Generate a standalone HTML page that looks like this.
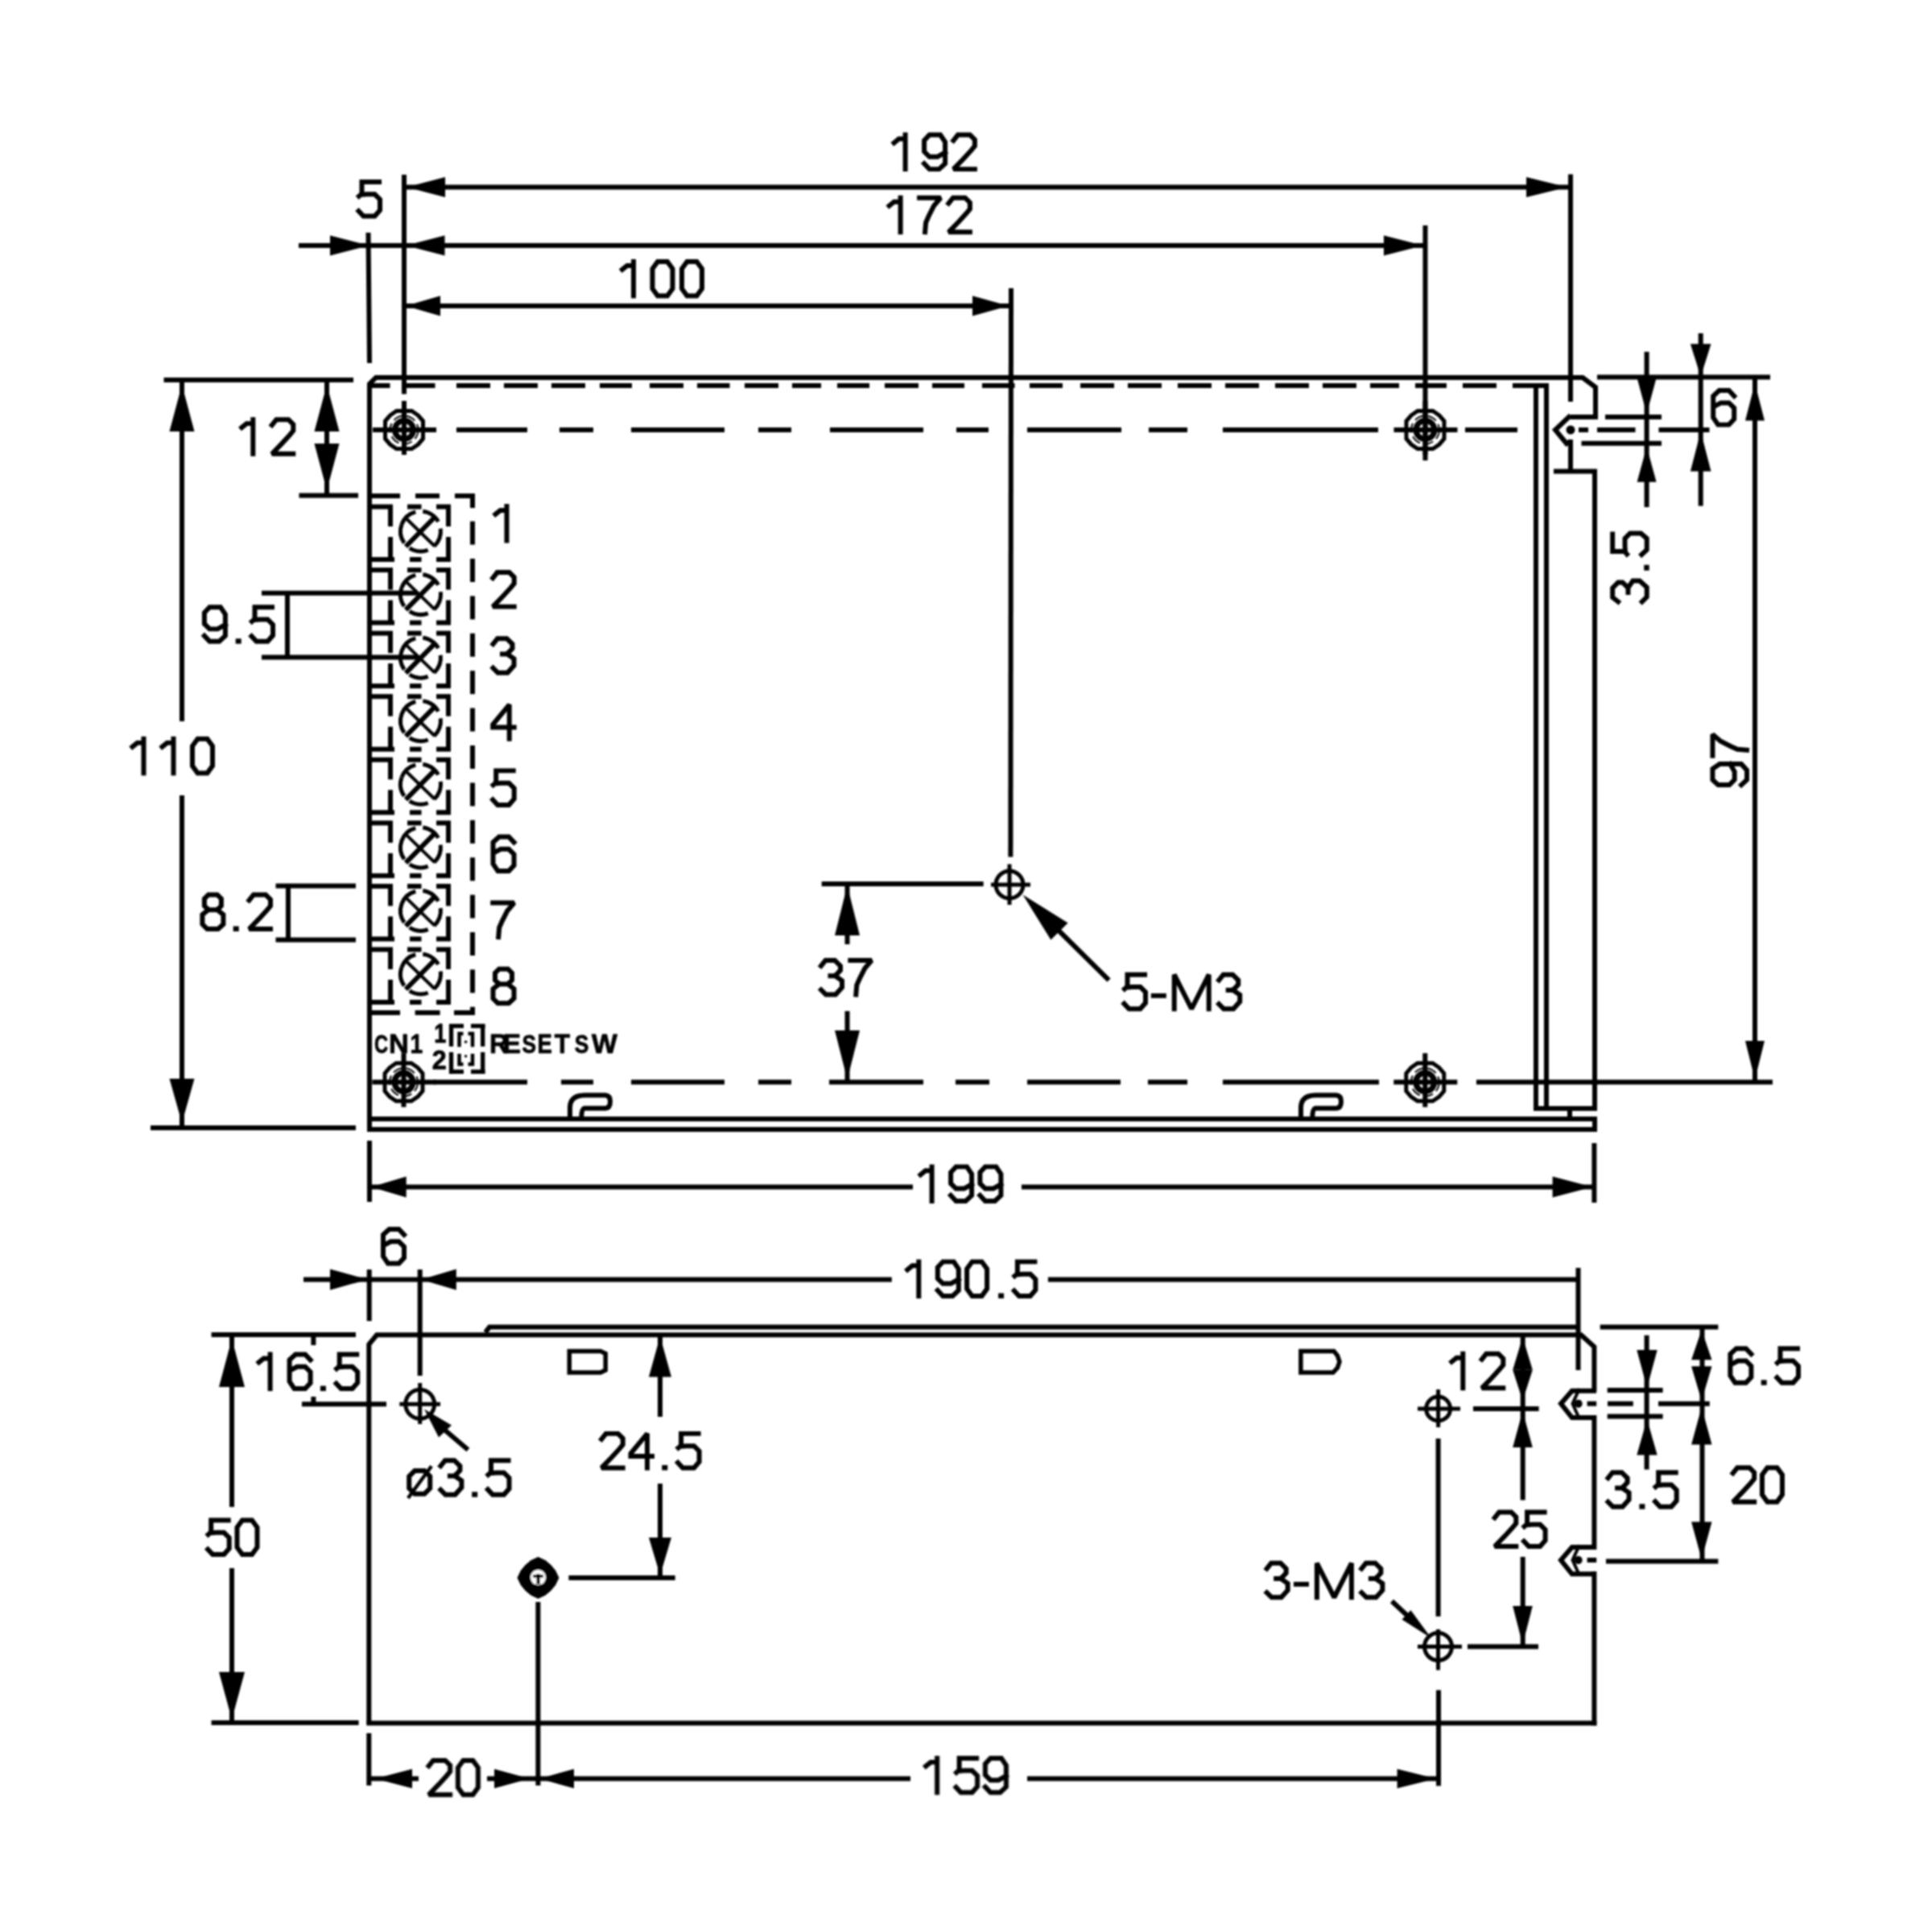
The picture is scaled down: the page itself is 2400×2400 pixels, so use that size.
<!DOCTYPE html>
<html><head><meta charset="utf-8"><style>html,body{margin:0;padding:0;background:#fff;width:2400px;height:2400px;overflow:hidden}svg{display:block}</style></head>
<body><svg width="2400" height="2400" viewBox="0 0 2400 2400">
<defs><filter id="bl" x="0" y="0" width="2400" height="2400" filterUnits="userSpaceOnUse"><feGaussianBlur stdDeviation="0.8"/></filter></defs>
<rect width="2400" height="2400" fill="#fff"/>
<g filter="url(#bl)">
<g stroke="#000" fill="#000" stroke-linecap="butt" stroke-linejoin="miter">
<polyline points="459,1403 459,477 467,469 1966,469 1982,481 1982,518 1951,518" fill="none" stroke-width="6"/>
<polyline points="1951,516 1932,534 1946,551 1951,548" fill="none" stroke-width="6"/>
<line x1="1951" y1="546" x2="1951" y2="585.5" stroke-width="6"/>
<line x1="1930" y1="585.5" x2="1984" y2="585.5" stroke-width="6"/>
<line x1="1981" y1="585" x2="1981" y2="1377" stroke-width="6"/>
<line x1="1921" y1="476" x2="1921" y2="1380" stroke-width="6"/>
<line x1="1908" y1="476" x2="1908" y2="1380" stroke-width="6"/>
<line x1="1905" y1="1377" x2="1984" y2="1377" stroke-width="6"/>
<line x1="1950" y1="1377" x2="1950" y2="1390" stroke-width="6"/>
<line x1="459" y1="1390" x2="1984" y2="1390" stroke-width="6"/>
<line x1="456" y1="1403" x2="1984" y2="1403" stroke-width="6"/>
<line x1="1981" y1="1387" x2="1981" y2="1406" stroke-width="6"/>
<line x1="459" y1="479" x2="484.5" y2="479" stroke-width="6"/>
<line x1="504" y1="479" x2="540.5" y2="479" stroke-width="6"/>
<line x1="567" y1="479" x2="609" y2="479" stroke-width="6"/>
<line x1="626" y1="479" x2="668" y2="479" stroke-width="6"/>
<line x1="685" y1="479" x2="727" y2="479" stroke-width="6"/>
<line x1="745" y1="479" x2="785" y2="479" stroke-width="6"/>
<line x1="807" y1="479" x2="849" y2="479" stroke-width="6"/>
<line x1="866" y1="479" x2="906.5" y2="479" stroke-width="6"/>
<line x1="925" y1="479" x2="967" y2="479" stroke-width="6"/>
<line x1="984" y1="479" x2="1020" y2="479" stroke-width="6"/>
<line x1="1040" y1="479" x2="1080" y2="479" stroke-width="6"/>
<line x1="1099" y1="479" x2="1141" y2="479" stroke-width="6"/>
<line x1="1158" y1="479" x2="1198" y2="479" stroke-width="6"/>
<line x1="1220" y1="479" x2="1260.5" y2="479" stroke-width="6"/>
<line x1="1279" y1="479" x2="1320" y2="479" stroke-width="6"/>
<line x1="1342" y1="479" x2="1384" y2="479" stroke-width="6"/>
<line x1="1401" y1="479" x2="1443" y2="479" stroke-width="6"/>
<line x1="1463" y1="479" x2="1505" y2="479" stroke-width="6"/>
<line x1="1522" y1="479" x2="1564" y2="479" stroke-width="6"/>
<line x1="1584" y1="479" x2="1626" y2="479" stroke-width="6"/>
<line x1="1643" y1="479" x2="1685" y2="479" stroke-width="6"/>
<line x1="1702" y1="479" x2="1738" y2="479" stroke-width="6"/>
<line x1="1758" y1="479" x2="1797" y2="479" stroke-width="6"/>
<line x1="1817" y1="479" x2="1859" y2="479" stroke-width="6"/>
<line x1="1879" y1="479" x2="1921" y2="479" stroke-width="6"/>
<line x1="567" y1="534" x2="655" y2="534" stroke-width="6"/>
<line x1="695" y1="534" x2="737" y2="534" stroke-width="6"/>
<line x1="784" y1="534" x2="900" y2="534" stroke-width="6"/>
<line x1="942" y1="534" x2="983" y2="534" stroke-width="6"/>
<line x1="1031" y1="534" x2="1147" y2="534" stroke-width="6"/>
<line x1="1188" y1="534" x2="1228" y2="534" stroke-width="6"/>
<line x1="1276" y1="534" x2="1393" y2="534" stroke-width="6"/>
<line x1="1427" y1="534" x2="1475" y2="534" stroke-width="6"/>
<line x1="1519" y1="534" x2="1712" y2="534" stroke-width="6"/>
<line x1="1820" y1="534" x2="1885" y2="534" stroke-width="6"/>
<line x1="1961" y1="534" x2="1973" y2="534" stroke-width="6"/>
<line x1="1984" y1="534" x2="2031.5" y2="534" stroke-width="6"/>
<line x1="2060.5" y1="534" x2="2123.5" y2="534" stroke-width="6"/>
<line x1="538" y1="1344.3" x2="655" y2="1344.3" stroke-width="6"/>
<line x1="697" y1="1344.3" x2="737" y2="1344.3" stroke-width="6"/>
<line x1="784" y1="1344.3" x2="900" y2="1344.3" stroke-width="6"/>
<line x1="942" y1="1344.3" x2="983" y2="1344.3" stroke-width="6"/>
<line x1="1030" y1="1344.3" x2="1147" y2="1344.3" stroke-width="6"/>
<line x1="1187" y1="1344.3" x2="1229" y2="1344.3" stroke-width="6"/>
<line x1="1276" y1="1344.3" x2="1392" y2="1344.3" stroke-width="6"/>
<line x1="1426" y1="1344.3" x2="1475" y2="1344.3" stroke-width="6"/>
<line x1="1519" y1="1344.3" x2="1713" y2="1344.3" stroke-width="6"/>
<line x1="1834" y1="1344.3" x2="2202" y2="1344.3" stroke-width="6"/>
<polygon points="492.5,510.5 511.5,510.5 519.5,516 525.5,523 525.5,545 519.5,552 511.5,557.5 492.5,557.5 484.5,552 478.5,545 478.5,523 484.5,516" fill="none" stroke-width="5"/>
<circle cx="502" cy="534" r="17.5" fill="none" stroke-width="2" stroke-dasharray="12 5"/>
<circle cx="502" cy="534" r="11.5" fill="none" stroke-width="7" />
<line x1="463" y1="534" x2="542" y2="534" stroke-width="6"/>
<line x1="502" y1="498" x2="502" y2="565" stroke-width="6"/>
<polygon points="1761.0,510.5 1780.0,510.5 1788.0,516 1794.0,523 1794.0,545 1788.0,552 1780.0,557.5 1761.0,557.5 1753.0,552 1747.0,545 1747.0,523 1753.0,516" fill="none" stroke-width="5"/>
<circle cx="1770.5" cy="534" r="17.5" fill="none" stroke-width="2" stroke-dasharray="12 5"/>
<circle cx="1770.5" cy="534" r="11.5" fill="none" stroke-width="7" />
<line x1="1731.5" y1="534" x2="1810.5" y2="534" stroke-width="6"/>
<line x1="1770.5" y1="498" x2="1770.5" y2="565" stroke-width="6"/>
<polygon points="492.0,1320.8 511.0,1320.8 519.0,1326.3 525.0,1333.3 525.0,1355.3 519.0,1362.3 511.0,1367.8 492.0,1367.8 484.0,1362.3 478.0,1355.3 478.0,1333.3 484.0,1326.3" fill="none" stroke-width="5"/>
<circle cx="501.5" cy="1344.3" r="17.5" fill="none" stroke-width="2" stroke-dasharray="12 5"/>
<circle cx="501.5" cy="1344.3" r="11.5" fill="none" stroke-width="7" />
<line x1="462.5" y1="1344.3" x2="541.5" y2="1344.3" stroke-width="6"/>
<line x1="501.5" y1="1308.3" x2="501.5" y2="1375.3" stroke-width="6"/>
<polygon points="1760.8,1320.8 1779.8,1320.8 1787.8,1326.3 1793.8,1333.3 1793.8,1355.3 1787.8,1362.3 1779.8,1367.8 1760.8,1367.8 1752.8,1362.3 1746.8,1355.3 1746.8,1333.3 1752.8,1326.3" fill="none" stroke-width="5"/>
<circle cx="1770.3" cy="1344.3" r="17.5" fill="none" stroke-width="2" stroke-dasharray="12 5"/>
<circle cx="1770.3" cy="1344.3" r="11.5" fill="none" stroke-width="7" />
<line x1="1731.3" y1="1344.3" x2="1810.3" y2="1344.3" stroke-width="6"/>
<line x1="1770.3" y1="1308.3" x2="1770.3" y2="1375.3" stroke-width="6"/>
<circle cx="1951" cy="534" r="5.5" fill="#000" stroke-width="0" />
<line x1="502" y1="232.5" x2="1951" y2="232.5" stroke-width="6"/>
<polygon points="505.0,232.5 553.0,220.0 553.0,245.0" stroke="none"/>
<polygon points="1947.0,232.5 1896.0,220.0 1896.0,245.0" stroke="none"/>
<line x1="502" y1="217" x2="502" y2="489.5" stroke-width="6"/>
<line x1="1951" y1="216.5" x2="1951" y2="499" stroke-width="6"/>
<line x1="371" y1="305" x2="1770.5" y2="305" stroke-width="6"/>
<polygon points="459.0,305.0 410.0,292.5 410.0,317.5" stroke="none"/>
<polygon points="504.0,305.0 552.5,292.5 552.5,317.5" stroke="none"/>
<polygon points="1768.0,305.0 1719.0,292.5 1719.0,317.5" stroke="none"/>
<line x1="457.5" y1="289" x2="459" y2="451" stroke-width="6"/>
<line x1="1770.5" y1="280" x2="1770.5" y2="572" stroke-width="6"/>
<line x1="502" y1="380" x2="1255" y2="380" stroke-width="6"/>
<polygon points="504.0,380.0 547.0,367.5 547.0,392.5" stroke="none"/>
<polygon points="1253.0,380.0 1208.0,367.5 1208.0,392.5" stroke="none"/>
<line x1="1256" y1="358" x2="1255.4" y2="1064.4" stroke-width="6"/>
<line x1="203.5" y1="472" x2="439" y2="472" stroke-width="6"/>
<line x1="226" y1="472" x2="226" y2="896" stroke-width="6"/>
<line x1="226" y1="988" x2="226" y2="1400" stroke-width="6"/>
<polygon points="226.0,478.0 210.5,536.0 241.5,536.0" stroke="none"/>
<polygon points="226.0,1395.0 210.5,1340.0 241.5,1340.0" stroke="none"/>
<line x1="187" y1="1401" x2="442" y2="1401" stroke-width="6"/>
<line x1="406" y1="472" x2="406" y2="615.6" stroke-width="6"/>
<polygon points="406.0,478.0 390.5,536.0 421.5,536.0" stroke="none"/>
<polygon points="406.0,609.0 390.5,551.0 421.5,551.0" stroke="none"/>
<line x1="371.5" y1="615.6" x2="445" y2="615.6" stroke-width="6"/>
<line x1="357" y1="736.7" x2="357" y2="816.5" stroke-width="6"/>
<line x1="325" y1="736.7" x2="518.5" y2="736.7" stroke-width="6"/>
<line x1="325" y1="816.5" x2="518.5" y2="816.5" stroke-width="6"/>
<line x1="358" y1="1100.6" x2="358" y2="1167.4" stroke-width="6"/>
<line x1="342.5" y1="1100.6" x2="442" y2="1100.6" stroke-width="6"/>
<line x1="342.5" y1="1167.4" x2="442" y2="1167.4" stroke-width="6"/>
<line x1="459" y1="616" x2="497" y2="616" stroke-width="6"/>
<line x1="516" y1="616" x2="546" y2="616" stroke-width="6"/>
<line x1="565" y1="616" x2="590" y2="616" stroke-width="6"/>
<line x1="459" y1="1258" x2="497" y2="1258" stroke-width="6"/>
<line x1="515.6" y1="1258" x2="546.6" y2="1258" stroke-width="6"/>
<line x1="564" y1="1258" x2="590" y2="1258" stroke-width="6"/>
<line x1="587" y1="613" x2="587" y2="631" stroke-width="6"/>
<line x1="587" y1="647.6" x2="587" y2="676.6" stroke-width="6"/>
<line x1="587" y1="694.0" x2="587" y2="723.0" stroke-width="6"/>
<line x1="587" y1="740.4" x2="587" y2="769.4" stroke-width="6"/>
<line x1="587" y1="786.8" x2="587" y2="815.8" stroke-width="6"/>
<line x1="587" y1="833.1999999999999" x2="587" y2="862.1999999999999" stroke-width="6"/>
<line x1="587" y1="879.5999999999999" x2="587" y2="908.5999999999999" stroke-width="6"/>
<line x1="587" y1="925.9999999999999" x2="587" y2="954.9999999999999" stroke-width="6"/>
<line x1="587" y1="972.3999999999999" x2="587" y2="1001.3999999999999" stroke-width="6"/>
<line x1="587" y1="1018.7999999999998" x2="587" y2="1047.7999999999997" stroke-width="6"/>
<line x1="587" y1="1065.1999999999998" x2="587" y2="1094.1999999999998" stroke-width="6"/>
<line x1="587" y1="1111.6" x2="587" y2="1140.6" stroke-width="6"/>
<line x1="587" y1="1158.0" x2="587" y2="1187.0" stroke-width="6"/>
<line x1="587" y1="1204.4" x2="587" y2="1233.4" stroke-width="6"/>
<line x1="587" y1="1250.8000000000002" x2="587" y2="1261" stroke-width="6"/>
<line x1="459" y1="629.5" x2="488" y2="629.5" stroke-width="6"/>
<line x1="506" y1="629.5" x2="523.5" y2="629.5" stroke-width="6"/>
<line x1="542" y1="629.5" x2="560" y2="629.5" stroke-width="6"/>
<line x1="459" y1="695.0" x2="490" y2="695.0" stroke-width="6"/>
<line x1="509" y1="695.0" x2="523.5" y2="695.0" stroke-width="6"/>
<line x1="542" y1="695.0" x2="560" y2="695.0" stroke-width="6"/>
<line x1="485" y1="629.5" x2="485" y2="654.0" stroke-width="6"/>
<line x1="485" y1="667.0" x2="485" y2="695.0" stroke-width="6"/>
<line x1="557" y1="629.5" x2="557" y2="654.0" stroke-width="6"/>
<line x1="557" y1="667.0" x2="557" y2="695.0" stroke-width="6"/>
<circle cx="522.5" cy="660.0" r="25" fill="none" stroke-width="5" stroke-dasharray="24 9" transform="rotate(200 522.5 660.0)"/>
<line x1="504" y1="643.5" x2="540" y2="678.5" stroke-width="4"/>
<line x1="539" y1="643.5" x2="504" y2="679.0" stroke-width="6"/>
<line x1="459" y1="708.0699999999999" x2="488" y2="708.0699999999999" stroke-width="6"/>
<line x1="506" y1="708.0699999999999" x2="523.5" y2="708.0699999999999" stroke-width="6"/>
<line x1="542" y1="708.0699999999999" x2="560" y2="708.0699999999999" stroke-width="6"/>
<line x1="459" y1="773.5699999999999" x2="490" y2="773.5699999999999" stroke-width="6"/>
<line x1="509" y1="773.5699999999999" x2="523.5" y2="773.5699999999999" stroke-width="6"/>
<line x1="542" y1="773.5699999999999" x2="560" y2="773.5699999999999" stroke-width="6"/>
<line x1="485" y1="708.0699999999999" x2="485" y2="732.5699999999999" stroke-width="6"/>
<line x1="485" y1="745.5699999999999" x2="485" y2="773.5699999999999" stroke-width="6"/>
<line x1="557" y1="708.0699999999999" x2="557" y2="732.5699999999999" stroke-width="6"/>
<line x1="557" y1="745.5699999999999" x2="557" y2="773.5699999999999" stroke-width="6"/>
<circle cx="522.5" cy="738.5699999999999" r="25" fill="none" stroke-width="5" stroke-dasharray="24 9" transform="rotate(200 522.5 738.5699999999999)"/>
<line x1="504" y1="722.0699999999999" x2="540" y2="757.0699999999999" stroke-width="4"/>
<line x1="539" y1="722.0699999999999" x2="504" y2="757.5699999999999" stroke-width="6"/>
<line x1="459" y1="786.64" x2="488" y2="786.64" stroke-width="6"/>
<line x1="506" y1="786.64" x2="523.5" y2="786.64" stroke-width="6"/>
<line x1="542" y1="786.64" x2="560" y2="786.64" stroke-width="6"/>
<line x1="459" y1="852.14" x2="490" y2="852.14" stroke-width="6"/>
<line x1="509" y1="852.14" x2="523.5" y2="852.14" stroke-width="6"/>
<line x1="542" y1="852.14" x2="560" y2="852.14" stroke-width="6"/>
<line x1="485" y1="786.64" x2="485" y2="811.14" stroke-width="6"/>
<line x1="485" y1="824.14" x2="485" y2="852.14" stroke-width="6"/>
<line x1="557" y1="786.64" x2="557" y2="811.14" stroke-width="6"/>
<line x1="557" y1="824.14" x2="557" y2="852.14" stroke-width="6"/>
<circle cx="522.5" cy="817.14" r="25" fill="none" stroke-width="5" stroke-dasharray="24 9" transform="rotate(200 522.5 817.14)"/>
<line x1="504" y1="800.64" x2="540" y2="835.64" stroke-width="4"/>
<line x1="539" y1="800.64" x2="504" y2="836.14" stroke-width="6"/>
<line x1="459" y1="865.21" x2="488" y2="865.21" stroke-width="6"/>
<line x1="506" y1="865.21" x2="523.5" y2="865.21" stroke-width="6"/>
<line x1="542" y1="865.21" x2="560" y2="865.21" stroke-width="6"/>
<line x1="459" y1="930.71" x2="490" y2="930.71" stroke-width="6"/>
<line x1="509" y1="930.71" x2="523.5" y2="930.71" stroke-width="6"/>
<line x1="542" y1="930.71" x2="560" y2="930.71" stroke-width="6"/>
<line x1="485" y1="865.21" x2="485" y2="889.71" stroke-width="6"/>
<line x1="485" y1="902.71" x2="485" y2="930.71" stroke-width="6"/>
<line x1="557" y1="865.21" x2="557" y2="889.71" stroke-width="6"/>
<line x1="557" y1="902.71" x2="557" y2="930.71" stroke-width="6"/>
<circle cx="522.5" cy="895.71" r="25" fill="none" stroke-width="5" stroke-dasharray="24 9" transform="rotate(200 522.5 895.71)"/>
<line x1="504" y1="879.21" x2="540" y2="914.21" stroke-width="4"/>
<line x1="539" y1="879.21" x2="504" y2="914.71" stroke-width="6"/>
<line x1="459" y1="943.78" x2="488" y2="943.78" stroke-width="6"/>
<line x1="506" y1="943.78" x2="523.5" y2="943.78" stroke-width="6"/>
<line x1="542" y1="943.78" x2="560" y2="943.78" stroke-width="6"/>
<line x1="459" y1="1009.28" x2="490" y2="1009.28" stroke-width="6"/>
<line x1="509" y1="1009.28" x2="523.5" y2="1009.28" stroke-width="6"/>
<line x1="542" y1="1009.28" x2="560" y2="1009.28" stroke-width="6"/>
<line x1="485" y1="943.78" x2="485" y2="968.28" stroke-width="6"/>
<line x1="485" y1="981.28" x2="485" y2="1009.28" stroke-width="6"/>
<line x1="557" y1="943.78" x2="557" y2="968.28" stroke-width="6"/>
<line x1="557" y1="981.28" x2="557" y2="1009.28" stroke-width="6"/>
<circle cx="522.5" cy="974.28" r="25" fill="none" stroke-width="5" stroke-dasharray="24 9" transform="rotate(200 522.5 974.28)"/>
<line x1="504" y1="957.78" x2="540" y2="992.78" stroke-width="4"/>
<line x1="539" y1="957.78" x2="504" y2="993.28" stroke-width="6"/>
<line x1="459" y1="1022.3499999999999" x2="488" y2="1022.3499999999999" stroke-width="6"/>
<line x1="506" y1="1022.3499999999999" x2="523.5" y2="1022.3499999999999" stroke-width="6"/>
<line x1="542" y1="1022.3499999999999" x2="560" y2="1022.3499999999999" stroke-width="6"/>
<line x1="459" y1="1087.85" x2="490" y2="1087.85" stroke-width="6"/>
<line x1="509" y1="1087.85" x2="523.5" y2="1087.85" stroke-width="6"/>
<line x1="542" y1="1087.85" x2="560" y2="1087.85" stroke-width="6"/>
<line x1="485" y1="1022.3499999999999" x2="485" y2="1046.85" stroke-width="6"/>
<line x1="485" y1="1059.85" x2="485" y2="1087.85" stroke-width="6"/>
<line x1="557" y1="1022.3499999999999" x2="557" y2="1046.85" stroke-width="6"/>
<line x1="557" y1="1059.85" x2="557" y2="1087.85" stroke-width="6"/>
<circle cx="522.5" cy="1052.85" r="25" fill="none" stroke-width="5" stroke-dasharray="24 9" transform="rotate(200 522.5 1052.85)"/>
<line x1="504" y1="1036.35" x2="540" y2="1071.35" stroke-width="4"/>
<line x1="539" y1="1036.35" x2="504" y2="1071.85" stroke-width="6"/>
<line x1="459" y1="1100.92" x2="488" y2="1100.92" stroke-width="6"/>
<line x1="506" y1="1100.92" x2="523.5" y2="1100.92" stroke-width="6"/>
<line x1="542" y1="1100.92" x2="560" y2="1100.92" stroke-width="6"/>
<line x1="459" y1="1166.42" x2="490" y2="1166.42" stroke-width="6"/>
<line x1="509" y1="1166.42" x2="523.5" y2="1166.42" stroke-width="6"/>
<line x1="542" y1="1166.42" x2="560" y2="1166.42" stroke-width="6"/>
<line x1="485" y1="1100.92" x2="485" y2="1125.42" stroke-width="6"/>
<line x1="485" y1="1138.42" x2="485" y2="1166.42" stroke-width="6"/>
<line x1="557" y1="1100.92" x2="557" y2="1125.42" stroke-width="6"/>
<line x1="557" y1="1138.42" x2="557" y2="1166.42" stroke-width="6"/>
<circle cx="522.5" cy="1131.42" r="25" fill="none" stroke-width="5" stroke-dasharray="24 9" transform="rotate(200 522.5 1131.42)"/>
<line x1="504" y1="1114.92" x2="540" y2="1149.92" stroke-width="4"/>
<line x1="539" y1="1114.92" x2="504" y2="1150.42" stroke-width="6"/>
<line x1="459" y1="1179.49" x2="488" y2="1179.49" stroke-width="6"/>
<line x1="506" y1="1179.49" x2="523.5" y2="1179.49" stroke-width="6"/>
<line x1="542" y1="1179.49" x2="560" y2="1179.49" stroke-width="6"/>
<line x1="459" y1="1244.99" x2="490" y2="1244.99" stroke-width="6"/>
<line x1="509" y1="1244.99" x2="523.5" y2="1244.99" stroke-width="6"/>
<line x1="542" y1="1244.99" x2="560" y2="1244.99" stroke-width="6"/>
<line x1="485" y1="1179.49" x2="485" y2="1203.99" stroke-width="6"/>
<line x1="485" y1="1216.99" x2="485" y2="1244.99" stroke-width="6"/>
<line x1="557" y1="1179.49" x2="557" y2="1203.99" stroke-width="6"/>
<line x1="557" y1="1216.99" x2="557" y2="1244.99" stroke-width="6"/>
<circle cx="522.5" cy="1209.99" r="25" fill="none" stroke-width="5" stroke-dasharray="24 9" transform="rotate(200 522.5 1209.99)"/>
<line x1="504" y1="1193.49" x2="540" y2="1228.49" stroke-width="4"/>
<line x1="539" y1="1193.49" x2="504" y2="1228.99" stroke-width="6"/>
<line x1="558" y1="1274.5" x2="576" y2="1274.5" stroke-width="5.3"/>
<line x1="585" y1="1274.5" x2="602.5" y2="1274.5" stroke-width="5.3"/>
<line x1="558" y1="1331.3" x2="576" y2="1331.3" stroke-width="5.3"/>
<line x1="585" y1="1331.3" x2="602.5" y2="1331.3" stroke-width="5.3"/>
<line x1="560.5" y1="1272" x2="560.5" y2="1300" stroke-width="5.3"/>
<line x1="560.5" y1="1307" x2="560.5" y2="1334" stroke-width="5.3"/>
<line x1="599.7" y1="1272" x2="599.7" y2="1300" stroke-width="5.3"/>
<line x1="599.7" y1="1307" x2="599.7" y2="1334" stroke-width="5.3"/>
<path d="M570.5,1300.5 V1284 H575.5 M581.5,1284 H587 V1300.5" fill="none" stroke-width="4.5"/>
<path d="M570.5,1309 V1322 H575.5 M581.5,1322 H587 V1309" fill="none" stroke-width="4.5"/>
<circle cx="578.6" cy="1294.3" r="1.8" fill="#000" stroke-width="0" />
<circle cx="578.6" cy="1312" r="1.8" fill="#000" stroke-width="0" />
<path d="M1616,1390 V1376 Q1616,1361 1634,1360.5 H1660 Q1666,1361 1666,1368.5 Q1666,1376.5 1660,1376.7 H1634 Q1630,1378 1630.4,1390" fill="none" stroke-width="6"/>
<path d="M708,1390 V1376 Q708,1361 726,1360.5 H752 Q758,1361 758,1368.5 Q758,1376.5 752,1376.7 H726 Q722,1378 722.4000000000001,1390" fill="none" stroke-width="6"/>
<circle cx="1254" cy="1099" r="17" fill="none" stroke-width="5" />
<line x1="1231" y1="1099" x2="1280" y2="1099" stroke-width="5"/>
<line x1="1254" y1="1073.5" x2="1254" y2="1124" stroke-width="5"/>
<line x1="1020.7" y1="1098" x2="1221.7" y2="1098" stroke-width="6"/>
<line x1="1052.5" y1="1098" x2="1052.5" y2="1173" stroke-width="6"/>
<line x1="1052.5" y1="1256" x2="1052.5" y2="1343" stroke-width="6"/>
<polygon points="1052.5,1100.0 1037.0,1162.0 1068.0,1162.0" stroke="none"/>
<polygon points="1052.5,1341.0 1037.0,1280.0 1068.0,1280.0" stroke="none"/>
<polygon points="1270.6,1111.5 1305.4,1167.6 1326.6,1146.4" stroke="none"/>
<line x1="1300" y1="1141" x2="1377.5" y2="1217.7" stroke-width="6"/>
<line x1="1984" y1="468.5" x2="2199" y2="468.5" stroke-width="6"/>
<line x1="2180" y1="468" x2="2180" y2="1344" stroke-width="6"/>
<polygon points="2180.0,476.0 2168.0,522.6 2192.0,522.6" stroke="none"/>
<polygon points="2180.0,1341.0 2168.0,1293.0 2192.0,1293.0" stroke="none"/>
<line x1="2112.7" y1="414" x2="2112.7" y2="628.6" stroke-width="6"/>
<polygon points="2112.7,468.0 2099.9,427.3 2125.5,427.3" stroke="none"/>
<polygon points="2112.7,536.0 2099.9,585.5 2125.5,585.5" stroke="none"/>
<line x1="2045.6" y1="437" x2="2045.6" y2="630" stroke-width="6"/>
<polygon points="2045.6,514.0 2033.6,469.6 2057.6,469.6" stroke="none"/>
<polygon points="2045.6,555.0 2033.6,598.7 2057.6,598.7" stroke="none"/>
<line x1="1994" y1="518" x2="2064" y2="518" stroke-width="6"/>
<line x1="1964.5" y1="550.7" x2="2064" y2="550.7" stroke-width="6"/>
<line x1="459" y1="1474.5" x2="1134" y2="1474.5" stroke-width="6"/>
<line x1="1269" y1="1474.5" x2="1981" y2="1474.5" stroke-width="6"/>
<polygon points="461.0,1474.5 504.7,1461.5 504.7,1487.5" stroke="none"/>
<polygon points="1978.0,1474.5 1928.6,1461.5 1928.6,1487.5" stroke="none"/>
<line x1="459" y1="1417" x2="459" y2="1493" stroke-width="6"/>
<line x1="1980.4" y1="1420" x2="1980.4" y2="1494" stroke-width="6"/>
<path d="M458.3,2140.5 V1670 L468,1658.3 H1964 L1980.4,1673 V1729" fill="none" stroke-width="6"/>
<polyline points="1983,1727.8 1952.8,1727.8 1939,1743.7 1952.8,1761 1983,1761" fill="none" stroke-width="6"/>
<polyline points="1962,1725 1953.5,1743.7 1962,1762.5" fill="none" stroke-width="4"/>
<line x1="1980.4" y1="1758" x2="1980.4" y2="1925" stroke-width="6"/>
<polyline points="1983,1922.1 1952.8,1922.1 1939,1938.0 1952.8,1955.3 1983,1955.3" fill="none" stroke-width="6"/>
<polyline points="1962,1919.3 1953.5,1938.0 1962,1956.8" fill="none" stroke-width="4"/>
<line x1="1980.4" y1="1952" x2="1980.4" y2="2143.5" stroke-width="6"/>
<line x1="455.3" y1="2140.5" x2="1983.4" y2="2140.5" stroke-width="6"/>
<path d="M603,1655 L608,1648.6 H1961" fill="none" stroke-width="6"/>
<path d="M707.3,1678.4 H746 L752.2,1681.5 V1702 L746,1705 H707.3 Z" fill="none" stroke-width="5.5"/>
<path d="M1615.9,1678.4 H1657 L1661.5,1684 L1664,1691.6 L1661.5,1699 L1656,1705 H1615.9 Z" fill="none" stroke-width="5.5"/>
<circle cx="521.7" cy="1744.3" r="18" fill="none" stroke-width="5" />
<line x1="496.3" y1="1744.3" x2="547" y2="1744.3" stroke-width="5"/>
<line x1="521.7" y1="1718" x2="521.7" y2="1769" stroke-width="5"/>
<line x1="521.7" y1="1577" x2="521.7" y2="1709" stroke-width="6"/>
<polygon points="527.0,1750.5 545.0,1785.6 561.0,1770.4" stroke="none"/>
<line x1="545" y1="1770" x2="581.4" y2="1801" stroke-width="6"/>
<polygon points="694.5,1960.0 690.2,1969.0 684.4,1975.9 677.5,1981.7 668.5,1986.0 659.5,1981.7 652.6,1975.9 646.8,1969.0 642.5,1960.0 646.8,1951.0 652.6,1944.1 659.5,1938.3 668.5,1934.0 677.5,1938.3 684.4,1944.1 690.2,1951.0" stroke="none"/>
<circle cx="668.5" cy="1959.5" r="9.5" fill="#fff" stroke-width="0" />
<rect x="666.5" y="1955" width="4.5" height="13" stroke="none"/>
<rect x="662" y="1956" width="13" height="4" stroke="none"/>
<line x1="668.4" y1="1990" x2="668.4" y2="2218" stroke-width="6"/>
<line x1="706.4" y1="1960" x2="838.7" y2="1960" stroke-width="6"/>
<line x1="820" y1="1658" x2="820" y2="1760" stroke-width="6"/>
<line x1="820" y1="1843" x2="820" y2="1960" stroke-width="6"/>
<polygon points="820.0,1660.0 806.0,1710.6 834.0,1710.6" stroke="none"/>
<polygon points="820.0,1957.0 806.0,1910.0 834.0,1910.0" stroke="none"/>
<circle cx="1786.6" cy="1750" r="15" fill="none" stroke-width="5" />
<line x1="1761" y1="1750" x2="1814" y2="1750" stroke-width="5"/>
<line x1="1786.6" y1="1726" x2="1786.6" y2="1773" stroke-width="5"/>
<line x1="1786.6" y1="1787" x2="1786.6" y2="2008" stroke-width="6"/>
<circle cx="1786.5" cy="2045.6" r="17" fill="none" stroke-width="5" />
<line x1="1761" y1="2045.6" x2="1816" y2="2045.6" stroke-width="5"/>
<line x1="1786.5" y1="2024" x2="1786.5" y2="2074.6" stroke-width="5"/>
<line x1="1787" y1="2099.5" x2="1787" y2="2218.5" stroke-width="6"/>
<polygon points="1778.0,2035.0 1752.5,2000.2 1741.5,2011.8" stroke="none"/>
<line x1="1729" y1="1989" x2="1760" y2="2018" stroke-width="6"/>
<line x1="377" y1="1589.4" x2="1107.8" y2="1589.4" stroke-width="6"/>
<line x1="1301.9" y1="1589.4" x2="1960.5" y2="1589.4" stroke-width="6"/>
<polygon points="457.0,1589.4 410.0,1576.4 410.0,1602.4" stroke="none"/>
<polygon points="523.0,1589.4 566.8,1576.4 566.8,1602.4" stroke="none"/>
<line x1="458.7" y1="1577" x2="458.7" y2="1641" stroke-width="6"/>
<line x1="1960.5" y1="1575" x2="1960.5" y2="1702" stroke-width="6"/>
<line x1="262.6" y1="1658" x2="442" y2="1658" stroke-width="6"/>
<line x1="262.6" y1="2140" x2="445.6" y2="2140" stroke-width="6"/>
<line x1="288" y1="1658" x2="288" y2="1872" stroke-width="6"/>
<line x1="288" y1="1948" x2="288" y2="2140" stroke-width="6"/>
<polygon points="288.0,1663.0 272.0,1723.0 304.0,1723.0" stroke="none"/>
<polygon points="288.0,2136.0 272.0,2077.0 304.0,2077.0" stroke="none"/>
<line x1="389.4" y1="1660" x2="389.4" y2="1671" stroke-width="6"/>
<line x1="389.4" y1="1735" x2="389.4" y2="1744" stroke-width="6"/>
<line x1="375" y1="1744.3" x2="480" y2="1744.3" stroke-width="6"/>
<line x1="458.3" y1="2153" x2="458.3" y2="2218" stroke-width="6"/>
<line x1="458.3" y1="2209.5" x2="520" y2="2209.5" stroke-width="6"/>
<line x1="605" y1="2209.5" x2="668.4" y2="2209.5" stroke-width="6"/>
<line x1="668.4" y1="2209.5" x2="1131" y2="2209.5" stroke-width="6"/>
<line x1="1276" y1="2209.5" x2="1787" y2="2209.5" stroke-width="6"/>
<polygon points="466.0,2209.5 512.0,2197.5 512.0,2221.5" stroke="none"/>
<polygon points="658.0,2209.5 614.0,2197.5 614.0,2221.5" stroke="none"/>
<polygon points="670.0,2209.5 713.0,2197.5 713.0,2221.5" stroke="none"/>
<polygon points="1784.0,2209.5 1735.6,2197.5 1735.6,2221.5" stroke="none"/>
<line x1="1891.7" y1="1660" x2="1891.7" y2="1863.4" stroke-width="6"/>
<line x1="1891.7" y1="1934" x2="1891.7" y2="2045" stroke-width="6"/>
<polygon points="1891.5,1661.0 1879.2,1701.7 1903.8,1701.7" stroke="none"/>
<polygon points="1891.5,1740.0 1879.2,1701.7 1903.8,1701.7" stroke="none"/>
<polygon points="1891.5,1753.0 1879.2,1798.0 1903.8,1798.0" stroke="none"/>
<polygon points="1891.5,2043.0 1879.2,1995.0 1903.8,1995.0" stroke="none"/>
<line x1="1830" y1="1750" x2="1911.6" y2="1750" stroke-width="6"/>
<line x1="1823" y1="2045.6" x2="1911" y2="2045.6" stroke-width="6"/>
<line x1="2045.6" y1="1658.7" x2="2045.6" y2="1825.4" stroke-width="6"/>
<polygon points="2046.0,1724.0 2033.3,1677.0 2058.7,1677.0" stroke="none"/>
<polygon points="2046.0,1763.0 2033.3,1807.5 2058.7,1807.5" stroke="none"/>
<line x1="1996.7" y1="1727" x2="2065.6" y2="1727" stroke-width="6"/>
<line x1="1996.7" y1="1759.4" x2="2065.6" y2="1759.4" stroke-width="6"/>
<line x1="1997" y1="1743.7" x2="2028.8" y2="1743.7" stroke-width="6"/>
<line x1="2060" y1="1743.7" x2="2123.8" y2="1743.7" stroke-width="6"/>
<circle cx="1960.7" cy="1743.7" r="5" fill="#000" stroke-width="0" />
<line x1="1971.6" y1="1743.7" x2="1983.2" y2="1743.7" stroke-width="6"/>
<line x1="2114.5" y1="1648.5" x2="2114.5" y2="1939.5" stroke-width="6"/>
<polygon points="2113.8,1652.0 2101.1,1689.3 2126.5,1689.3" stroke="none"/>
<polygon points="2113.8,1740.0 2101.1,1697.3 2126.5,1697.3" stroke="none"/>
<polygon points="2113.8,1748.0 2101.1,1794.4 2126.5,1794.4" stroke="none"/>
<polygon points="2113.8,1937.0 2101.1,1890.6 2126.5,1890.6" stroke="none"/>
<line x1="1987.7" y1="1648.5" x2="2134.4" y2="1648.5" stroke-width="6"/>
<line x1="1995" y1="1939.5" x2="2134.4" y2="1939.5" stroke-width="6"/>
<circle cx="1960.7" cy="1938" r="5" fill="#000" stroke-width="0" />
<line x1="1971.6" y1="1938" x2="1983.2" y2="1938" stroke-width="6"/>
</g>
<g fill="none" stroke="#000" stroke-width="6" stroke-linecap="square" stroke-linejoin="miter" stroke-miterlimit="1.9">
<g transform="translate(1108.1,164.6) scale(1,0.9898)"><path d="M2.5,13 L8.5,8 H16 M16.5,3 V46" transform="translate(0.0,0)"/><path d="M3,39 L9.5,46 H21.5 L29,39 V12 L23,3 H9.5 L3,10 V24 L9.5,30.5 H19.5 L29,25" transform="translate(37.0,0)"/><path d="M3,10 L8.5,3 H23.5 L29.5,9 V17 L25,22.5 L15.5,33 L3,46 H29.5" transform="translate(73.3,0)"/></g>
<g transform="translate(1102.1,242.8) scale(1,0.9898)"><path d="M2.5,13 L8.5,8 H16 M16.5,3 V46" transform="translate(0.0,0)"/><path d="M3,3 H29.5 L21,13 L14.5,26 L11,34 L10,46" transform="translate(37.0,0)"/><path d="M3,10 L8.5,3 H23.5 L29.5,9 V17 L25,22.5 L15.5,33 L3,46 H29.5" transform="translate(73.3,0)"/></g>
<g transform="translate(442.5,223.0) scale(1,0.9898)"><path d="M28.5,3 H7 V18 L3.5,21 M7,19 L13.5,18.5 H23 L29.5,25 V38.5 L23,46 H9 L3,39.5" transform="translate(0.0,0)"/></g>
<g transform="translate(770.5,322.0) scale(1,0.9898)"><path d="M2.5,13 L8.5,8 H16 M16.5,3 V46" transform="translate(0.0,0)"/><path d="M9.5,3 H21.5 L28,12 V37 L21.5,46 H9.5 L3,37 V12 Z" transform="translate(37.0,0)"/><path d="M9.5,3 H21.5 L28,12 V37 L21.5,46 H9.5 L3,37 V12 Z" transform="translate(73.5,0)"/></g>
<g transform="translate(162.0,914.8) scale(1,0.9898)"><path d="M2.5,13 L8.5,8 H16 M16.5,3 V46" transform="translate(0.0,0)"/><path d="M2.5,13 L8.5,8 H16 M16.5,3 V46" transform="translate(37.0,0)"/><path d="M9.5,3 H21.5 L28,12 V37 L21.5,46 H9.5 L3,37 V12 Z" transform="translate(74.0,0)"/></g>
<g transform="translate(297.8,518.2) scale(1,0.9898)"><path d="M2.5,13 L8.5,8 H16 M16.5,3 V46" transform="translate(0.0,0)"/><path d="M3,10 L8.5,3 H23.5 L29.5,9 V17 L25,22.5 L15.5,33 L3,46 H29.5" transform="translate(37.0,0)"/></g>
<g transform="translate(250.9,751.2) scale(1,0.9898)"><path d="M3,39 L9.5,46 H21.5 L29,39 V12 L23,3 H9.5 L3,10 V24 L9.5,30.5 H19.5 L29,25" transform="translate(0.0,0)"/><rect x="41.8" y="42.5" width="7" height="6.5" stroke="none" fill="#000"/><path d="M28.5,3 H7 V18 L3.5,21 M7,19 L13.5,18.5 H23 L29.5,25 V38.5 L23,46 H9 L3,39.5" transform="translate(58.6,0)"/></g>
<g transform="translate(247.9,1108.5) scale(1,0.9898)"><path d="M11,3 H22 L27,8 V17 L22,22 H11 L6,17 V8 Z M11,22 L3.5,28 V40 L9.5,46 H23 L29.5,40 V28 L22,22" transform="translate(0.0,0)"/><rect x="41.8" y="42.5" width="7" height="6.5" stroke="none" fill="#000"/><path d="M3,10 L8.5,3 H23.5 L29.5,9 V17 L25,22.5 L15.5,33 L3,46 H29.5" transform="translate(58.6,0)"/></g>
<g transform="translate(613.0,626.0) scale(1,0.9898)"><path d="M2.5,13 L8.5,8 H16 M16.5,3 V46" transform="translate(0.0,0)"/></g>
<g transform="translate(609.2,708.1) scale(1,0.9898)"><path d="M3,10 L8.5,3 H23.5 L29.5,9 V17 L25,22.5 L15.5,33 L3,46 H29.5" transform="translate(0.0,0)"/></g>
<g transform="translate(609.5,790.2) scale(1,0.9898)"><path d="M3,10 L8.5,3 H20 L27,10 V15.5 L20.5,22.5 H14.5 M20.5,22.5 L29,28.5 V37 L21,46 H9 L3,40" transform="translate(0.0,0)"/></g>
<g transform="translate(609.2,872.3) scale(1,0.9898)"><path d="M23.5,46 V3 L3,28 V31.5 H29.5" transform="translate(0.0,0)"/></g>
<g transform="translate(609.2,954.4) scale(1,0.9898)"><path d="M28.5,3 H7 V18 L3.5,21 M7,19 L13.5,18.5 H23 L29.5,25 V38.5 L23,46 H9 L3,39.5" transform="translate(0.0,0)"/></g>
<g transform="translate(609.0,1036.5) scale(1,0.9898)"><path d="M29.5,10 L23,3 H11 L3.5,10 V37 L9.5,46 H23 L29.5,39 V25 L23,18.5 H13 L5.5,22.5" transform="translate(0.0,0)"/></g>
<g transform="translate(609.2,1118.6) scale(1,0.9898)"><path d="M3,3 H29.5 L21,13 L14.5,26 L11,34 L10,46" transform="translate(0.0,0)"/></g>
<g transform="translate(609.0,1200.7) scale(1,0.9898)"><path d="M11,3 H22 L27,8 V17 L22,22 H11 L6,17 V8 Z M11,22 L3.5,28 V40 L9.5,46 H23 L29.5,40 V28 L22,22" transform="translate(0.0,0)"/></g>
<text x="0" y="0" transform="translate(465.05,1307.68) scale(0.2369,0.3169)" font-size="100" font-weight="bold" font-family="Liberation Sans, sans-serif" fill="#000" stroke="#000" stroke-width="2.5" stroke-linejoin="round">C</text>
<text x="0" y="0" transform="translate(483.01,1308.00) scale(0.3414,0.3261)" font-size="100" font-weight="bold" font-family="Liberation Sans, sans-serif" fill="#000" stroke="#000" stroke-width="2.5" stroke-linejoin="round">N</text>
<text x="0" y="0" transform="translate(509.61,1308.00) scale(0.2809,0.3261)" font-size="100" font-weight="bold" font-family="Liberation Sans, sans-serif" fill="#000" stroke="#000" stroke-width="2.5" stroke-linejoin="round">1</text>
<text x="0" y="0" transform="translate(608.02,1308.00) scale(0.3254,0.3261)" font-size="100" font-weight="bold" font-family="Liberation Sans, sans-serif" fill="#000" stroke="#000" stroke-width="2.5" stroke-linejoin="round">R</text>
<text x="0" y="0" transform="translate(624.66,1308.00) scale(0.3339,0.3261)" font-size="100" font-weight="bold" font-family="Liberation Sans, sans-serif" fill="#000" stroke="#000" stroke-width="2.5" stroke-linejoin="round">E</text>
<text x="0" y="0" transform="translate(648.61,1307.68) scale(0.2633,0.3169)" font-size="100" font-weight="bold" font-family="Liberation Sans, sans-serif" fill="#000" stroke="#000" stroke-width="2.5" stroke-linejoin="round">S</text>
<text x="0" y="0" transform="translate(667.48,1308.00) scale(0.2750,0.3261)" font-size="100" font-weight="bold" font-family="Liberation Sans, sans-serif" fill="#000" stroke="#000" stroke-width="2.5" stroke-linejoin="round">E</text>
<text x="0" y="0" transform="translate(688.68,1308.00) scale(0.3169,0.3261)" font-size="100" font-weight="bold" font-family="Liberation Sans, sans-serif" fill="#000" stroke="#000" stroke-width="2.5" stroke-linejoin="round">T</text>
<text x="0" y="0" transform="translate(713.81,1307.68) scale(0.2650,0.3169)" font-size="100" font-weight="bold" font-family="Liberation Sans, sans-serif" fill="#000" stroke="#000" stroke-width="2.5" stroke-linejoin="round">S</text>
<text x="0" y="0" transform="translate(735.10,1308.00) scale(0.3372,0.3261)" font-size="100" font-weight="bold" font-family="Liberation Sans, sans-serif" fill="#000" stroke="#000" stroke-width="2.5" stroke-linejoin="round">W</text>
<text x="0" y="0" transform="translate(539.18,1295.00) scale(0.2702,0.3333)" font-size="100" font-weight="bold" font-family="Liberation Sans, sans-serif" fill="#000" stroke="#000" stroke-width="2.5" stroke-linejoin="round">1</text>
<text x="0" y="0" transform="translate(536.73,1327.80) scale(0.3224,0.3257)" font-size="100" font-weight="bold" font-family="Liberation Sans, sans-serif" fill="#000" stroke="#000" stroke-width="2.5" stroke-linejoin="round">2</text>
<g transform="translate(1017.0,1190.0) scale(1,0.9898)"><path d="M3,10 L8.5,3 H20 L27,10 V15.5 L20.5,22.5 H14.5 M20.5,22.5 L29,28.5 V37 L21,46 H9 L3,40" transform="translate(0.0,0)"/><path d="M3,3 H29.5 L21,13 L14.5,26 L11,34 L10,46" transform="translate(36.3,0)"/></g>
<g transform="translate(1393.5,1207.7) scale(1,0.9898)"><path d="M28.5,3 H7 V18 L3.5,21 M7,19 L13.5,18.5 H23 L29.5,25 V38.5 L23,46 H9 L3,39.5" transform="translate(0.0,0)"/><path d="M3,29.5 H16" transform="translate(36.3,0)"/><path d="M3,46 V3 L24.5,46 L46,3 V46" transform="translate(62.2,0)"/><path d="M3,10 L8.5,3 H20 L27,10 V15.5 L20.5,22.5 H14.5 M20.5,22.5 L29,28.5 V37 L21,46 H9 L3,40" transform="translate(117.7,0)"/></g>
<g transform="translate(2124.5,978.1) rotate(-90) scale(1,0.9898)"><path d="M3,39 L9.5,46 H21.5 L29,39 V12 L23,3 H9.5 L3,10 V24 L9.5,30.5 H19.5 L29,25" transform="translate(0.0,0)"/><path d="M3,3 H29.5 L21,13 L14.5,26 L11,34 L10,46" transform="translate(36.3,0)"/></g>
<g transform="translate(2124.7,482.1) scale(1,0.9898)"><path d="M29.5,10 L23,3 H11 L3.5,10 V37 L9.5,46 H23 L29.5,39 V25 L23,18.5 H13 L5.5,22.5" transform="translate(0.0,0)"/></g>
<g transform="translate(2000.2,750.5) rotate(-90) scale(1,0.9898)"><path d="M3,10 L8.5,3 H20 L27,10 V15.5 L20.5,22.5 H14.5 M20.5,22.5 L29,28.5 V37 L21,46 H9 L3,40" transform="translate(0.0,0)"/><rect x="41.8" y="42.5" width="7" height="6.5" stroke="none" fill="#000"/><path d="M28.5,3 H7 V18 L3.5,21 M7,19 L13.5,18.5 H23 L29.5,25 V38.5 L23,46 H9 L3,39.5" transform="translate(58.6,0)"/></g>
<g transform="translate(1141.1,1446.4) scale(1,0.9898)"><path d="M2.5,13 L8.5,8 H16 M16.5,3 V46" transform="translate(0.0,0)"/><path d="M3,39 L9.5,46 H21.5 L29,39 V12 L23,3 H9.5 L3,10 V24 L9.5,30.5 H19.5 L29,25" transform="translate(37.0,0)"/><path d="M3,39 L9.5,46 H21.5 L29,39 V12 L23,3 H9.5 L3,10 V24 L9.5,30.5 H19.5 L29,25" transform="translate(73.3,0)"/></g>
<g transform="translate(505.2,1811.2) scale(1,0.9898)"><path d="M10,16 H22 L29,23 V38 L22,45 H10 L3,38 V23 Z" transform="translate(0.0,0)"/><path d="M3,48.5 L29.5,12" stroke-width="4.5" transform="translate(0.0,0)"/><path d="M3,10 L8.5,3 H20 L27,10 V15.5 L20.5,22.5 H14.5 M20.5,22.5 L29,28.5 V37 L21,46 H9 L3,40" transform="translate(39.2,0)"/><rect x="81.0" y="42.5" width="7" height="6.5" stroke="none" fill="#000"/><path d="M28.5,3 H7 V18 L3.5,21 M7,19 L13.5,18.5 H23 L29.5,25 V38.5 L23,46 H9 L3,39.5" transform="translate(97.8,0)"/></g>
<g transform="translate(744.2,1777.9) scale(1,0.9898)"><path d="M3,10 L8.5,3 H23.5 L29.5,9 V17 L25,22.5 L15.5,33 L3,46 H29.5" transform="translate(0.0,0)"/><path d="M23.5,46 V3 L3,28 V31.5 H29.5" transform="translate(36.3,0)"/><rect x="78.1" y="42.5" width="7" height="6.5" stroke="none" fill="#000"/><path d="M28.5,3 H7 V18 L3.5,21 M7,19 L13.5,18.5 H23 L29.5,25 V38.5 L23,46 H9 L3,39.5" transform="translate(94.9,0)"/></g>
<g transform="translate(1570.7,1938.8) scale(1,0.9898)"><path d="M3,10 L8.5,3 H20 L27,10 V15.5 L20.5,22.5 H14.5 M20.5,22.5 L29,28.5 V37 L21,46 H9 L3,40" transform="translate(0.0,0)"/><path d="M3,29.5 H16" transform="translate(36.3,0)"/><path d="M3,46 V3 L24.5,46 L46,3 V46" transform="translate(62.2,0)"/><path d="M3,10 L8.5,3 H20 L27,10 V15.5 L20.5,22.5 H14.5 M20.5,22.5 L29,28.5 V37 L21,46 H9 L3,40" transform="translate(117.7,0)"/></g>
<g transform="translate(472.5,1524.0) scale(1,0.9898)"><path d="M29.5,10 L23,3 H11 L3.5,10 V37 L9.5,46 H23 L29.5,39 V25 L23,18.5 H13 L5.5,22.5" transform="translate(0.0,0)"/></g>
<g transform="translate(1124.8,1564.4) scale(1,0.9898)"><path d="M2.5,13 L8.5,8 H16 M16.5,3 V46" transform="translate(0.0,0)"/><path d="M3,39 L9.5,46 H21.5 L29,39 V12 L23,3 H9.5 L3,10 V24 L9.5,30.5 H19.5 L29,25" transform="translate(37.0,0)"/><path d="M9.5,3 H21.5 L28,12 V37 L21.5,46 H9.5 L3,37 V12 Z" transform="translate(73.3,0)"/><rect x="115.3" y="42.5" width="7" height="6.5" stroke="none" fill="#000"/><path d="M28.5,3 H7 V18 L3.5,21 M7,19 L13.5,18.5 H23 L29.5,25 V38.5 L23,46 H9 L3,39.5" transform="translate(132.1,0)"/></g>
<g transform="translate(255.2,1885.5) scale(1,0.9898)"><path d="M28.5,3 H7 V18 L3.5,21 M7,19 L13.5,18.5 H23 L29.5,25 V38.5 L23,46 H9 L3,39.5" transform="translate(0.0,0)"/><path d="M9.5,3 H21.5 L28,12 V37 L21.5,46 H9.5 L3,37 V12 Z" transform="translate(36.3,0)"/></g>
<g transform="translate(319.1,1679.5) scale(1,0.9898)"><path d="M2.5,13 L8.5,8 H16 M16.5,3 V46" transform="translate(0.0,0)"/><path d="M29.5,10 L23,3 H11 L3.5,10 V37 L9.5,46 H23 L29.5,39 V25 L23,18.5 H13 L5.5,22.5" transform="translate(37.0,0)"/><rect x="78.8" y="42.5" width="7" height="6.5" stroke="none" fill="#000"/><path d="M28.5,3 H7 V18 L3.5,21 M7,19 L13.5,18.5 H23 L29.5,25 V38.5 L23,46 H9 L3,39.5" transform="translate(95.6,0)"/></g>
<g transform="translate(529.6,2183.9) scale(1,0.9898)"><path d="M3,10 L8.5,3 H23.5 L29.5,9 V17 L25,22.5 L15.5,33 L3,46 H29.5" transform="translate(0.0,0)"/><path d="M9.5,3 H21.5 L28,12 V37 L21.5,46 H9.5 L3,37 V12 Z" transform="translate(36.3,0)"/></g>
<g transform="translate(1147.6,2181.1) scale(1,0.9898)"><path d="M2.5,13 L8.5,8 H16 M16.5,3 V46" transform="translate(0.0,0)"/><path d="M28.5,3 H7 V18 L3.5,21 M7,19 L13.5,18.5 H23 L29.5,25 V38.5 L23,46 H9 L3,39.5" transform="translate(37.0,0)"/><path d="M3,39 L9.5,46 H21.5 L29,39 V12 L23,3 H9.5 L3,10 V24 L9.5,30.5 H19.5 L29,25" transform="translate(73.3,0)"/></g>
<g transform="translate(1800.8,1678.8) scale(1,0.9898)"><path d="M2.5,13 L8.5,8 H16 M16.5,3 V46" transform="translate(0.0,0)"/><path d="M3,10 L8.5,3 H23.5 L29.5,9 V17 L25,22.5 L15.5,33 L3,46 H29.5" transform="translate(37.0,0)"/></g>
<g transform="translate(1853.8,1875.5) scale(1,0.9898)"><path d="M3,10 L8.5,3 H23.5 L29.5,9 V17 L25,22.5 L15.5,33 L3,46 H29.5" transform="translate(0.0,0)"/><path d="M28.5,3 H7 V18 L3.5,21 M7,19 L13.5,18.5 H23 L29.5,25 V38.5 L23,46 H9 L3,39.5" transform="translate(36.3,0)"/></g>
<g transform="translate(1994.6,1826.2) scale(1,0.9898)"><path d="M3,10 L8.5,3 H20 L27,10 V15.5 L20.5,22.5 H14.5 M20.5,22.5 L29,28.5 V37 L21,46 H9 L3,40" transform="translate(0.0,0)"/><rect x="41.8" y="42.5" width="7" height="6.5" stroke="none" fill="#000"/><path d="M28.5,3 H7 V18 L3.5,21 M7,19 L13.5,18.5 H23 L29.5,25 V38.5 L23,46 H9 L3,39.5" transform="translate(58.6,0)"/></g>
<g transform="translate(2145.9,1672.2) scale(1,0.9898)"><path d="M29.5,10 L23,3 H11 L3.5,10 V37 L9.5,46 H23 L29.5,39 V25 L23,18.5 H13 L5.5,22.5" transform="translate(0.0,0)"/><rect x="41.8" y="42.5" width="7" height="6.5" stroke="none" fill="#000"/><path d="M28.5,3 H7 V18 L3.5,21 M7,19 L13.5,18.5 H23 L29.5,25 V38.5 L23,46 H9 L3,39.5" transform="translate(58.6,0)"/></g>
<g transform="translate(2149.7,1820.2) scale(1,0.9898)"><path d="M3,10 L8.5,3 H23.5 L29.5,9 V17 L25,22.5 L15.5,33 L3,46 H29.5" transform="translate(0.0,0)"/><path d="M9.5,3 H21.5 L28,12 V37 L21.5,46 H9.5 L3,37 V12 Z" transform="translate(36.3,0)"/></g>
</g>
</g>
</svg></body></html>
